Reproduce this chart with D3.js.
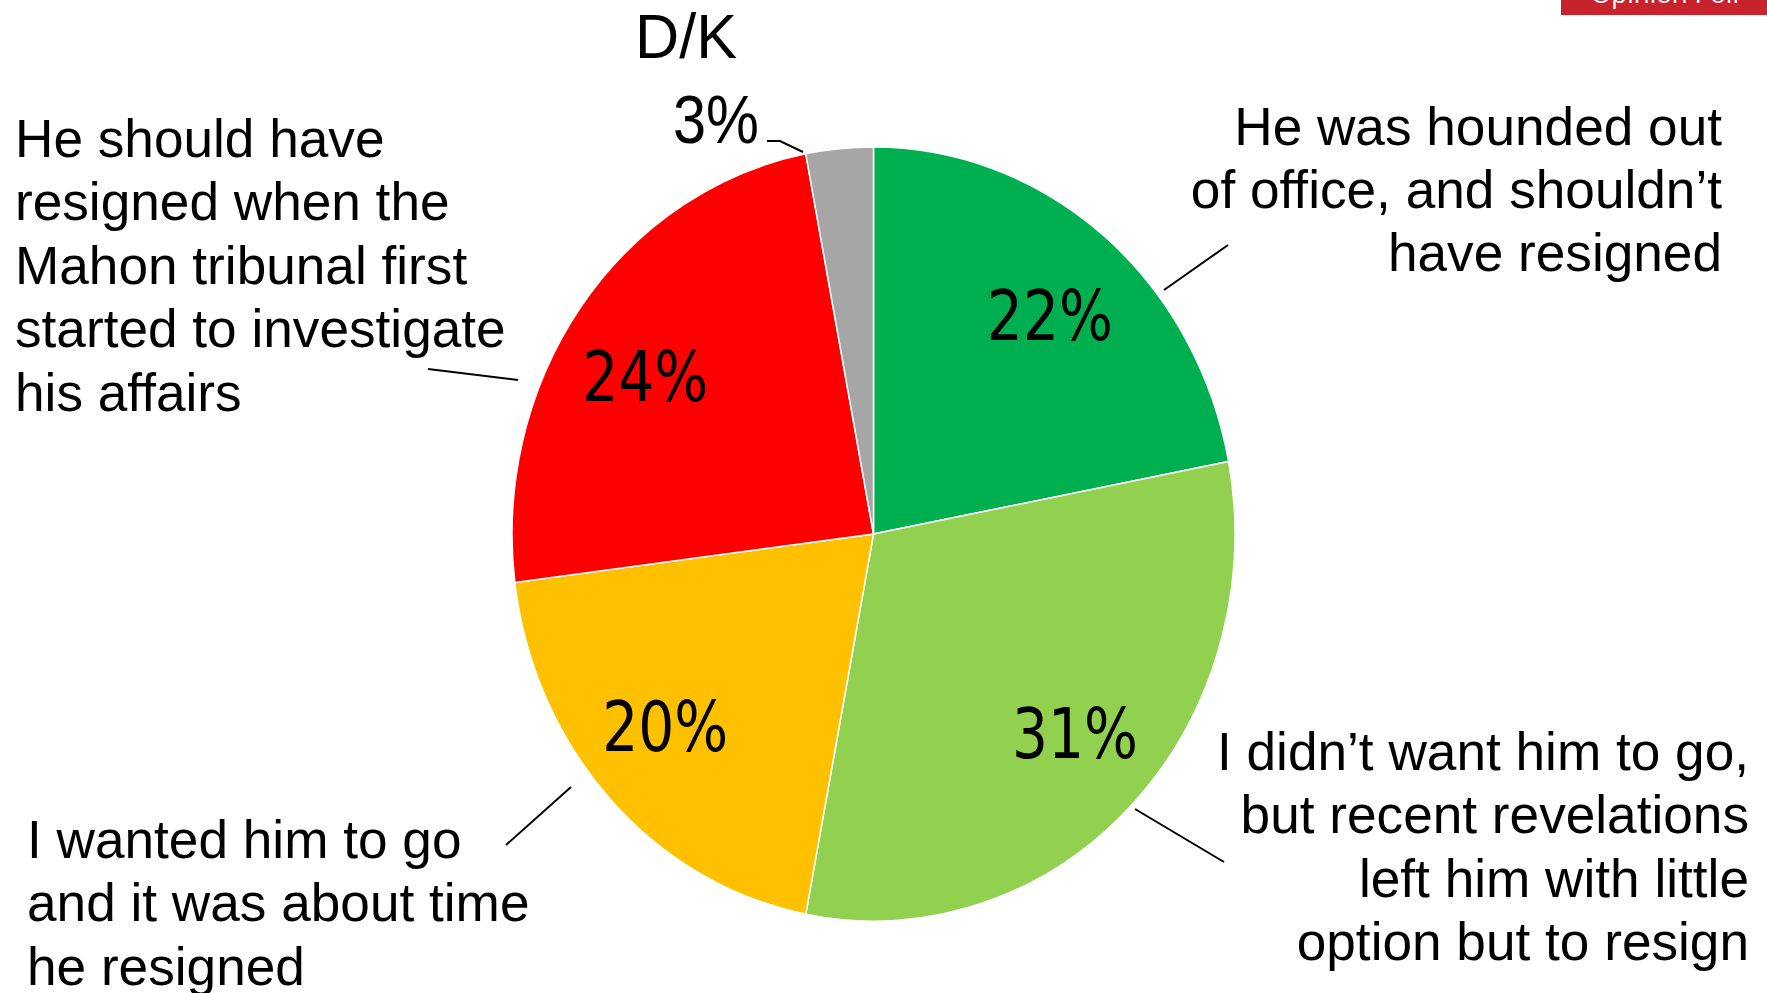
<!DOCTYPE html>
<html>
<head>
<meta charset="utf-8">
<script src="https://cdn.jsdelivr.net/npm/d3@7"></script>
<style>
  html, body { margin: 0; padding: 0; background: #fff; overflow: hidden; }
</style>
</head>
<body>
<svg id="chart"></svg>
<script>
// slices, clockwise from 12 o'clock
const categories = [
  "He was hounded out of office, and shouldn’t have resigned",
  "I didn’t want him to go, but recent revelations left him with little option but to resign",
  "I wanted him to go and it was about time he resigned",
  "He should have resigned when the Mahon tribunal first started to investigate his affairs",
  "D/K"
];
const values = [22, 31, 20, 24, 3];
const colors = ["#00B050", "#92D050", "#FFC000", "#FF0000", "#A6A6A6"];

// category text as it is broken over lines in the callouts
const labelLines = [
  ["He was hounded out", "of office, and shouldn’t", "have resigned"],
  ["I didn’t want him to go,", "but recent revelations", "left him with little", "option but to resign"],
  ["I wanted him to go", "and it was about time", "he resigned"],
  ["He should have", "resigned when the", "Mahon tribunal first", "started to investigate", "his affairs"],
  ["D/K"]
];

let svg = d3.select("#chart"),
  width = 1767,
  height = 993,
  cx = 873.5, cy = 534, // pie centre
  rx = 361.5, ry = 387; // pie is slightly taller than wide

svg.attr("width", width).attr("height", height);

let data = categories.map((c, i) => ({ name: c, value: values[i], color: colors[i], lines: labelLines[i] }));

let pie = d3.pie().sort(null).value((d) => d.value);
let arcs = pie(data);
let arc = d3.arc().innerRadius(0).outerRadius(rx);
let labelArc = d3.arc().innerRadius(273.5).outerRadius(273.5);
let sy = ry / rx;

// small nudges of the in-slice labels away from the centroid (best-fit placement)
let nudge = [[2, 7], [8, -8], [-9, -8], [-7, 14]];

// slices
svg.append("g")
  .attr("transform", "translate(" + cx + "," + cy + ") scale(1," + sy + ")")
  .selectAll("path")
  .data(arcs)
  .enter()
  .append("path")
  .attr("d", arc)
  .attr("fill", (d) => d.data.color)
  .attr("stroke", "#fff")
  .attr("stroke-width", 1.5)
  .attr("vector-effect", "non-scaling-stroke");

// percentages inside the big slices
svg.append("g")
  .selectAll("text")
  .data(arcs.filter((d) => d.data.value > 5))
  .enter()
  .append("text")
  .attr("x", (d, i) => cx + labelArc.centroid(d)[0] + nudge[i][0])
  .attr("y", (d, i) => cy + labelArc.centroid(d)[1] * sy + 25 + nudge[i][1])
  .attr("text-anchor", "middle")
  .attr("font-family", "'Liberation Sans Narrow', 'DejaVu Sans Condensed', sans-serif")
  .attr("font-size", "70px")
  .attr("textLength", 126)
  .attr("lengthAdjust", "spacingAndGlyphs")
  .attr("fill", "#000")
  .text((d) => d.data.value + "%");

// callout text blocks
let callouts = [
  { x: 1722, y: 144.5, anchor: "end" },
  { x: 1749, y: 770, anchor: "end" },
  { x: 27, y: 858, anchor: "start" },
  { x: 15, y: 157, anchor: "start" }
];
let lineGap = 63.5;

callouts.forEach((c, i) => {
  let g = svg.append("g")
    .attr("transform", "translate(" + c.x + "," + c.y + ") scale(0.985,1)");
  g.selectAll("text")
    .data(data[i].lines)
    .enter()
    .append("text")
    .attr("x", 0)
    .attr("y", (d, j) => j * lineGap)
    .attr("text-anchor", c.anchor)
    .attr("font-family", "'Liberation Sans', Arial, sans-serif")
    .attr("font-size", "54px")
    .attr("fill", "#000")
    .text((d) => d);
});

// D/K label sits outside the pie
let dk = data[4];
svg.append("text")
  .attr("x", 686).attr("y", 58)
  .attr("text-anchor", "middle")
  .attr("font-family", "'Liberation Sans', Arial, sans-serif")
  .attr("font-size", "63px")
  .attr("textLength", 102)
  .attr("lengthAdjust", "spacingAndGlyphs")
  .text(dk.lines[0]);
svg.append("text")
  .attr("x", 716).attr("y", 143)
  .attr("text-anchor", "middle")
  .attr("font-family", "'Liberation Sans', Arial, sans-serif")
  .attr("font-size", "68px")
  .attr("textLength", 86)
  .attr("lengthAdjust", "spacingAndGlyphs")
  .text(dk.value + "%");

// leader lines
let leaders = [
  [[1164, 290], [1228, 245]],
  [[1135, 809], [1224, 862]],
  [[571, 787], [506, 845]],
  [[518, 380], [428, 369]],
  [[803, 152], [780, 141], [767, 141]]
];
svg.append("g")
  .selectAll("path")
  .data(leaders)
  .enter()
  .append("path")
  .attr("d", d3.line())
  .attr("fill", "none")
  .attr("stroke", "#000")
  .attr("stroke-width", 2);

// "Opinion Poll" tag, cut by the top edge
svg.append("rect")
  .attr("x", 1561).attr("y", 0)
  .attr("width", 206).attr("height", 15)
  .attr("fill", "#C8232C");
svg.append("text")
  .attr("x", 1665).attr("y", 3)
  .attr("text-anchor", "middle")
  .attr("font-family", "'Open Sans', sans-serif")
  .attr("font-size", "26px")
  .attr("fill", "#fff")
  .text("Opinion Poll");
</script>
</body>
</html>
